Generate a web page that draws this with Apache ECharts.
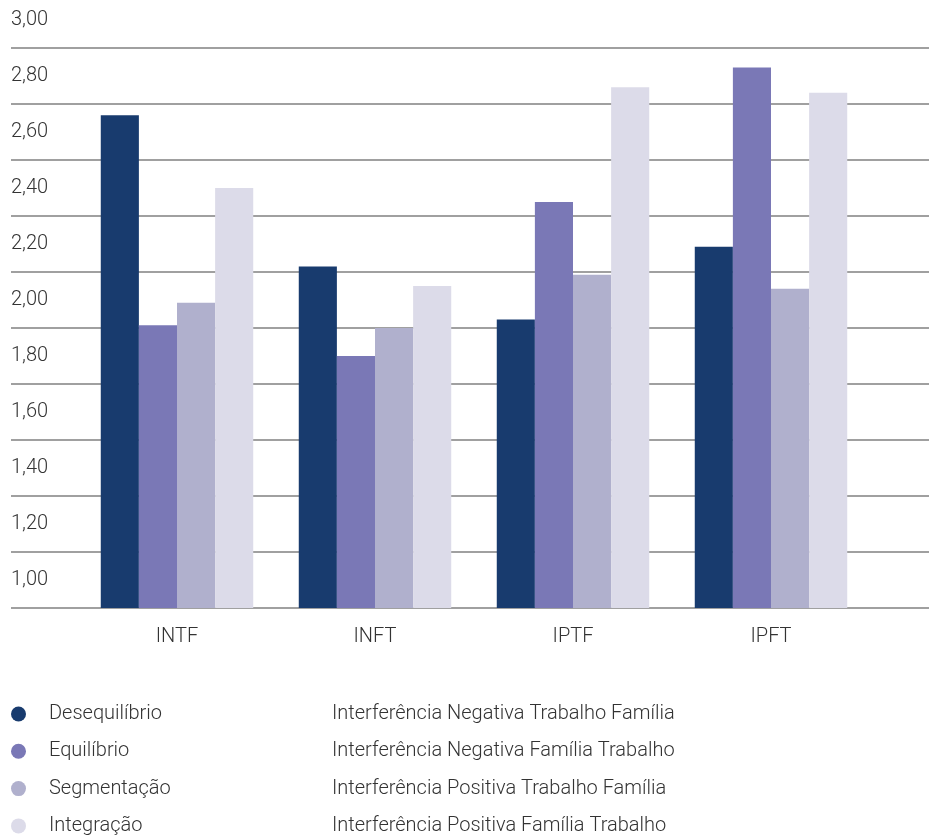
<!DOCTYPE html>
<html>
<head>
<meta charset="utf-8">
<script src="https://cdn.jsdelivr.net/npm/echarts@6/dist/echarts.min.js"></script>
<style>
  html, body { margin: 0; padding: 0; background: #fff; }
  #chart { width: 929px; height: 838px; }
</style>
</head>
<body>
<div id="chart"></div>
<script>
// categories and series
const categories = ['INTF', 'INFT', 'IPTF', 'IPFT'];
const seriesNames = ['Desequilíbrio', 'Equilíbrio', 'Segmentação', 'Integração'];
const descriptions = [
  'Interferência Negativa Trabalho Família',
  'Interferência Negativa Família Trabalho',
  'Interferência Positiva Trabalho Família',
  'Interferência Positiva Família Trabalho'
];
const desequilibrio = [2.76, 2.22, 2.03, 2.29];
const equilibrio = [2.01, 1.90, 2.45, 2.93];
const segmentacao = [2.09, 2.00, 2.19, 2.14];
const integracao = [2.50, 2.15, 2.86, 2.84];
const colors = ['#183b6e', '#7a78b6', '#b0b0cd', '#dcdbe9'];

const yMin = 1, yMax = 3, yStep = 0.2;
const font = 'Roboto';
const textColor = '#333';
const fs = 20;

const allValues = [desequilibrio, equilibrio, segmentacao, integracao];
const descByName = {};
seriesNames.forEach((n, i) => { descByName[n] = descriptions[i]; });

const chart = echarts.init(document.getElementById('chart'), null, { renderer: 'canvas' });

const option = {
  animation: false,
  color: colors,
  textStyle: { fontFamily: font },
  grid: [
    // grid 0: full width, gridlines + y labels
    { left: 11, right: 0, top: 48, bottom: 230, containLabel: false },
    // grid 1: bars
    { left: 78, right: 59, top: 48, bottom: 230, containLabel: false }
  ],
  xAxis: [
    { gridIndex: 0, type: 'value', show: false },
    {
      gridIndex: 1,
      type: 'category',
      data: categories,
      axisLine: { show: false },
      axisTick: { show: false },
      axisLabel: { margin: 19, fontSize: fs, color: textColor, fontWeight: 300, fontFamily: font }
    }
  ],
  yAxis: [
    {
      gridIndex: 0,
      type: 'value',
      min: yMin, max: yMax, interval: yStep,
      axisLine: { show: false },
      axisTick: { show: false },
      splitLine: { show: true, lineStyle: { color: '#808080', width: 1.5 } },
      axisLabel: {
        inside: true,
        margin: 0,
        align: 'left',
        verticalAlign: 'bottom',
        padding: [0, 0, 18, 0],
        fontSize: fs,
        fontWeight: 300,
        color: textColor,
        fontFamily: font,
        formatter: v => v.toFixed(2).replace('.', ',')
      }
    },
    {
      gridIndex: 1,
      type: 'value',
      min: yMin, max: yMax, interval: yStep,
      show: false,
      splitLine: { show: false }
    }
  ],
  legend: {
    orient: 'vertical',
    left: 6,
    top: 697,
    height: 140,
    icon: 'circle',
    itemWidth: 15,
    itemHeight: 15,
    itemGap: 13.3,
    selectedMode: false,
    data: seriesNames,
    formatter: name => '{a|' + name + '}{b|' + descByName[name] + '}',
    textStyle: {
      fontFamily: font,
      fontSize: fs,
      fontWeight: 300,
      color: textColor,
      lineHeight: 24,
      rich: {
        a: { width: 283, fontSize: fs, fontWeight: 300, color: textColor, fontFamily: font, padding: [0, 0, 0, 18] },
        b: { fontSize: fs, fontWeight: 300, color: textColor, fontFamily: font }
      }
    }
  },
  series: seriesNames.map((name, i) => ({
    name: name,
    type: 'bar',
    xAxisIndex: 1,
    yAxisIndex: 1,
    data: allValues[i],
    barGap: '0%',
    barCategoryGap: '23%',
    z: 3,
    itemStyle: { color: colors[i] }
  }))
};

chart.setOption(option);
</script>
</body>
</html>
